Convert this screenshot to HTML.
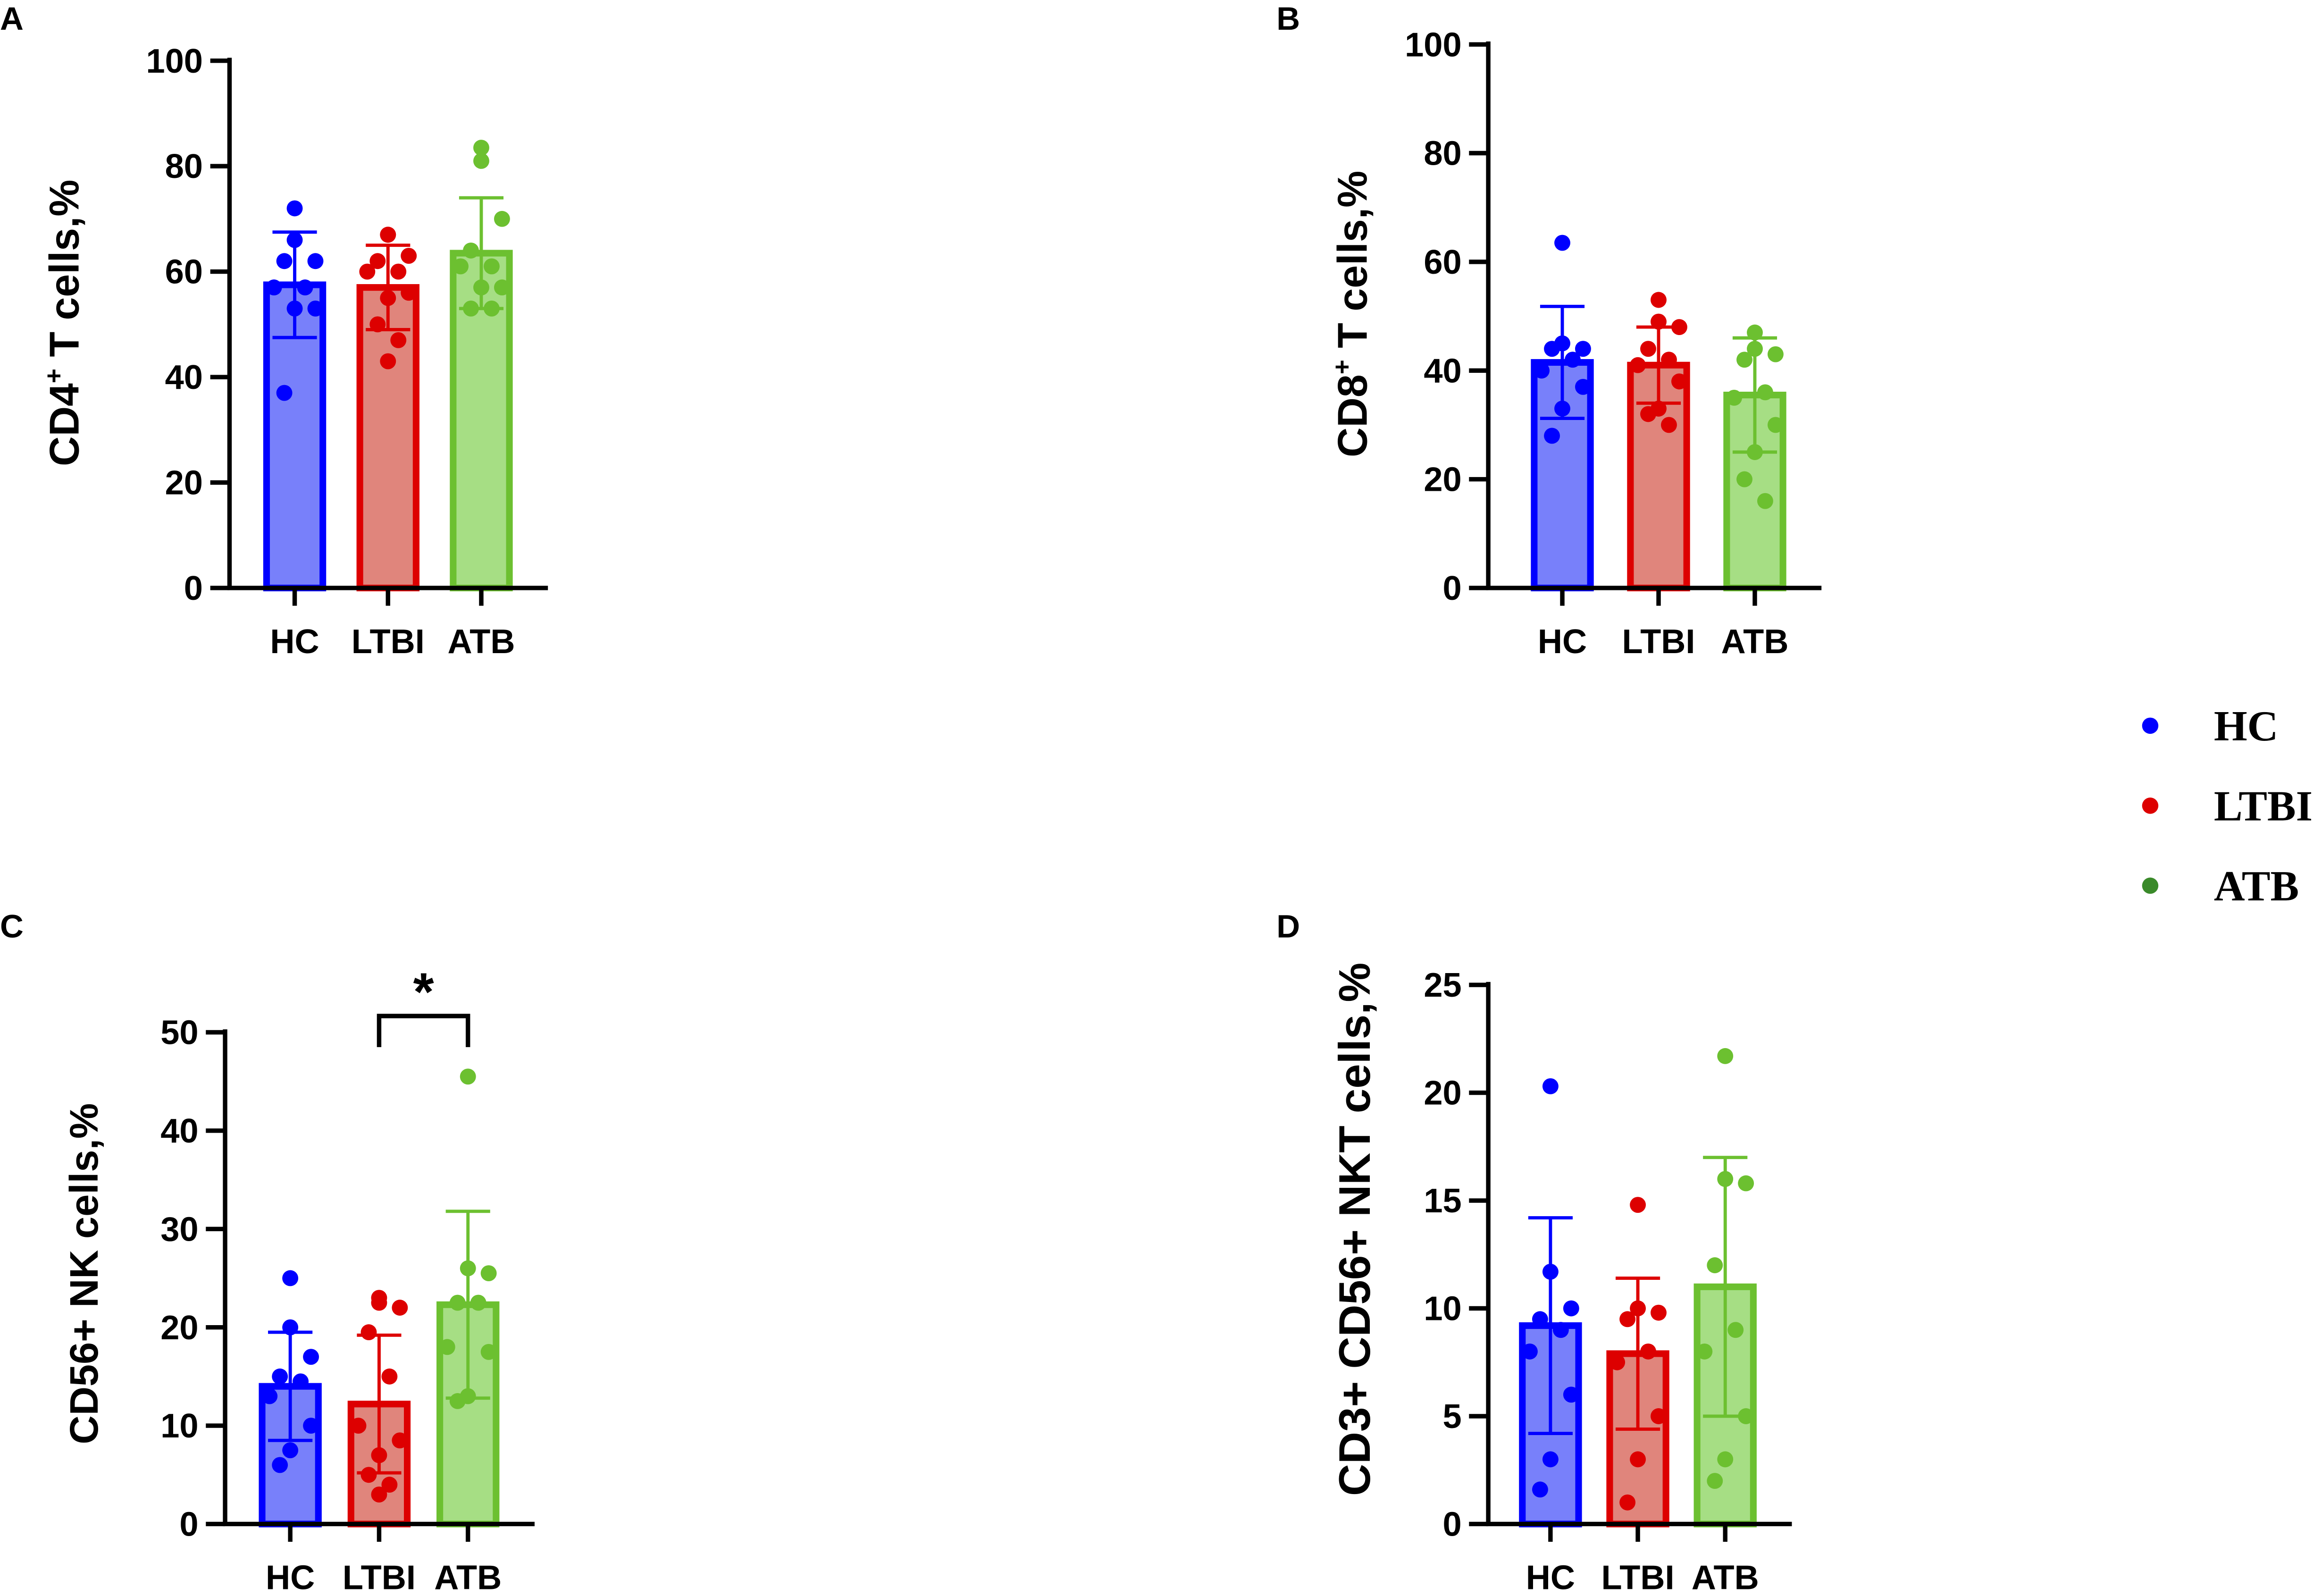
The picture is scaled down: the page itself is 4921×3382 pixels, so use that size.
<!DOCTYPE html>
<html><head><meta charset="utf-8"><style>
html,body{margin:0;padding:0;background:#fff;}
svg{display:block;}
text{font-family:"Liberation Sans",sans-serif;font-weight:bold;}
</style></head><body>
<svg id="fig" width="4921" height="3382" viewBox="0 0 1568 1077.6" preserveAspectRatio="none" xmlns="http://www.w3.org/2000/svg"></svg>
<script>
const categories = ["HC","LTBI","ATB"];
const aMeans = [57.5, 57, 63.5];
const aSD = [10, 8, 10.5];
const aPoints = [[72,66,62,62,57,57,53,53,37],[67,67,63,62,60,60,56,55,50,47,43],[83.5,81,70,64,61,61,57,57,53,53]];
const bMeans = [41.5, 41, 35.5];
const bSD = [10.3, 7, 10.5];
const bPoints = [[63.5,45,44,44,42,40,37,33,28],[53,49,48,44,42,41,38,33,32,30],[47,44,43,42,36,35,30,25,20,16]];
const cMeans = [14, 12.2, 22.3];
const cSD = [5.5, 7, 9.5];
const cPoints = [[25,20,17,15,14.5,13,10,7.5,6],[23,22.5,22,19.5,15,10,8.5,7,5,4,3],[45.5,26,25.5,22.5,22.5,18,17.5,13,12.5]];
const dMeans = [9.2, 7.9, 11];
const dSD = [5, 3.5, 6];
const dPoints = [[20.3,11.7,10,9.5,9,8,6,3,1.6],[14.8,10,9.8,9.5,8,7.5,5,3,1],[21.7,16,15.8,12,9,8,5,3,2]];
const aTicks=[0,20,40,60,80,100], bTicks=[0,20,40,60,80,100], cTicks=[0,10,20,30,40,50], dTicks=[0,5,10,15,20,25];

const NS="http://www.w3.org/2000/svg";
const svg=document.getElementById('fig');
function mk(tag,attrs,parent){const e=document.createElementNS(NS,tag);for(const k in attrs)e.setAttribute(k,attrs[k]);(parent||svg).appendChild(e);return e;}
const stroke=["#0000ff","#dd0000","#6cc030"];
const fill=["#7880fa","#e0857c","#a6de84"];
const jit=[0,0,14,-7,7,-14,14,0,-7,7,0];

function panel(o){
  const g=mk('g',{});
  
  
  const y=v=>o.y0-(v-o.ticks[0])/(o.ticks[o.ticks.length-1]-o.ticks[0])*(o.y0-o.y1);
  const x=i=>o.xs[i];
  o.means.forEach((m,i)=>{
    const r=mk('rect',{x:x(i)-19,y:y(m),width:38,height:o.y0-y(m),fill:fill[i],stroke:stroke[i],'stroke-width':4.5},g);
    
    
  });
  o.points.forEach((arr,i)=>arr.forEach((v,j)=>{
    const c=mk('circle',{cx:x(i)+jit[j%jit.length],cy:y(v),r:5.4,fill:stroke[i]},g);
    
    
  }));
  o.means.forEach((m,i)=>{
    const e=mk('path',{d:`M${x(i)},${y(m-o.sd[i])}V${y(m+o.sd[i])}M${x(i)-15},${y(m+o.sd[i])}h30M${x(i)-15},${y(m-o.sd[i])}h30`,stroke:stroke[i],'stroke-width':2.2,fill:'none'},g);
    
    
  });
  const ax=mk('path',{d:`M${o.ax},${o.y1-2}V${o.y0}H${o.xs[2]+45}`,stroke:'#000','stroke-width':3,fill:'none'},g);
  
  
  o.ticks.forEach(t=>{
    mk('line',{x1:o.ax-13,x2:o.ax,y1:y(t),y2:y(t),stroke:'#000','stroke-width':3},g);
    const tl=mk('text',{x:o.ax-18,y:y(t)+8,'text-anchor':'end','font-size':23},g);
    tl.textContent=t;
    
    
  });
  categories.forEach((c,i)=>{
    mk('line',{x1:x(i),x2:x(i),y1:o.y0,y2:o.y0+12,stroke:'#000','stroke-width':3},g);
    const tl=mk('text',{x:x(i),y:o.y0+44,'text-anchor':'middle','font-size':23},g);
    tl.textContent=c;
    
    
  });
  const yl=mk('text',{x:0,y:0,'text-anchor':'middle','font-size':o.fs,transform:`translate(${o.lx},${o.ly}) rotate(-90)`},g);
  yl.innerHTML=o.label;
  
  
  const pl=mk('text',{x:o.px,y:o.py,'font-size':22},g);
  pl.textContent=o.letter;
  
  
}
panel({name:'panel-a',ticks:aTicks,means:aMeans,sd:aSD,points:aPoints,y0:397,y1:41,ax:155,xs:[199,262,325],lx:53,ly:218,fs:28,label:'CD4<tspan font-size="17" dy="-11">+</tspan><tspan dy="11"> T cells,%</tspan>',letter:'A',px:0,py:20});
panel({name:'panel-b',ticks:bTicks,means:bMeans,sd:bSD,points:bPoints,y0:397,y1:30,ax:1005,xs:[1055,1120,1185],lx:923,ly:212,fs:28,label:'CD8<tspan font-size="17" dy="-11">+</tspan><tspan dy="11"> T cells,%</tspan>',letter:'B',px:862,py:20});
panel({name:'panel-c',ticks:cTicks,means:cMeans,sd:cSD,points:cPoints,y0:1029,y1:697,ax:152,xs:[196,256,316],lx:66,ly:860,fs:27,label:'CD56+ NK cells,%',letter:'C',px:0,py:633});
panel({name:'panel-d',ticks:dTicks,means:dMeans,sd:dSD,points:dPoints,y0:1029,y1:665,ax:1005,xs:[1047,1106,1165],lx:925,ly:830,fs:30,label:'CD3+ CD56+ NKT cells,%',letter:'D',px:862,py:633});
const br=mk('path',{d:'M256,707V686H316V707',stroke:'#000','stroke-width':3,fill:'none'});


const st=mk('text',{x:286,y:682,'text-anchor':'middle','font-size':36});
st.textContent='*';


const legC=["#0000ff","#dd0000","#3a8a2a"];
categories.forEach((c,i)=>{
  const yy=490+i*54;
  const d=mk('circle',{cx:1452,cy:yy,r:5.5,fill:legC[i]});
  
  
  const t=mk('text',{x:1495,y:yy+10,'font-size':29,style:'font-family:"Liberation Serif",serif;font-weight:bold'});
  t.textContent=c;
  
  
});
</script>
</body></html>
